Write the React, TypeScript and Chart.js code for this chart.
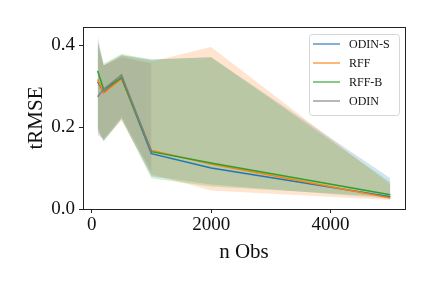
import React, { useEffect, useRef } from "react";
import { Chart, registerables } from "chart.js";

Chart.register(...registerables);

const nObs = [100, 200, 500, 1000, 2000, 5000];
const nObsOdin = [100, 200, 500, 1000];

const odinSMean = [0.31, 0.285, 0.32, 0.135, 0.1, 0.03];
const odinSUpper = [0.41, 0.35, 0.375, 0.365, 0.37, 0.075];
const odinSLower = [0.19, 0.165, 0.22, 0.08, 0.06, 0.025];

const rffMean = [0.316, 0.283, 0.318, 0.143, 0.11, 0.027];
const rffUpper = [0.4, 0.35, 0.375, 0.36, 0.395, 0.06];
const rffLower = [0.19, 0.17, 0.215, 0.085, 0.045, 0.022];

const rffBMean = [0.337, 0.292, 0.32, 0.14, 0.112, 0.035];
const rffBUpper = [0.41, 0.355, 0.378, 0.365, 0.37, 0.065];
const rffBLower = [0.2, 0.165, 0.22, 0.075, 0.055, 0.03];

const odinMean = [0.274, 0.292, 0.327, 0.14];
const odinUpper = [0.424, 0.35, 0.37, 0.355];
const odinLower = [0.18, 0.17, 0.225, 0.09];

const seriesNames = ["ODIN-S", "RFF", "RFF-B", "ODIN"];
const seriesColors = ["#1f77b4", "#ff7f0e", "#2ca02c", "#7f7f7f"];
const xTicks = [0, 2000, 4000];
const yTicks = [0.0, 0.2, 0.4];

function pts(xs: number[], ys: number[]) {
  return xs.map((x, i) => ({ x, y: ys[i] }));
}

function rgba(hex: string, a: number) {
  const r = parseInt(hex.slice(1, 3), 16);
  const g = parseInt(hex.slice(3, 5), 16);
  const b = parseInt(hex.slice(5, 7), 16);
  return `rgba(${r},${g},${b},${a})`;
}

const FONT = "'Liberation Serif', 'DejaVu Serif', serif";

export default function App() {
  const ref = useRef<HTMLCanvasElement | null>(null);
  useEffect(() => {
    document.body.style.margin = "0";
    const canvas = ref.current!;
    const series = [
      { xs: nObs, m: odinSMean, u: odinSUpper, l: odinSLower },
      { xs: nObs, m: rffMean, u: rffUpper, l: rffLower },
      { xs: nObs, m: rffBMean, u: rffBUpper, l: rffBLower },
      { xs: nObsOdin, m: odinMean, u: odinUpper, l: odinLower },
    ];
    const datasets: any[] = [];
    series.forEach((s, i) => {
      const c = seriesColors[i];
      datasets.push({
        label: "_lower" + i,
        data: pts(s.xs, s.l),
        borderColor: "rgba(0,0,0,0)",
        borderWidth: 0,
        pointRadius: 0,
        fill: false,
        order: 30 - i,
      });
      datasets.push({
        label: "_upper" + i,
        data: pts(s.xs, s.u),
        borderColor: "rgba(0,0,0,0)",
        borderWidth: 0,
        pointRadius: 0,
        fill: "-1",
        backgroundColor: rgba(c, 0.2),
        order: 30 - i,
      });
    });
    series.forEach((s, i) => {
      datasets.push({
        label: seriesNames[i],
        data: pts(s.xs, s.m),
        borderColor: seriesColors[i],
        borderWidth: 1.5,
        pointRadius: 0,
        fill: false,
        order: 10 - i,
      });
    });

    const framePlugin = {
      id: "frameLegend",
      afterDraw(chart: any) {
        const { ctx, chartArea: a } = chart;
        ctx.save();
        ctx.strokeStyle = "#222";
        ctx.lineWidth = 1;
        ctx.strokeRect(Math.round(a.left) + 0.5, Math.round(a.top) + 0.5, Math.round(a.right - a.left), Math.round(a.bottom - a.top));
        // legend
        const bx = 309, by = 34, bw = 90, bh = 81;
        ctx.fillStyle = "rgba(255,255,255,0.8)";
        ctx.strokeStyle = "#d6d6d6";
        ctx.lineWidth = 1;
        ctx.beginPath();
        (ctx as any).roundRect(bx + 0.5, by + 0.5, bw, bh, 3);
        ctx.fill();
        ctx.stroke();
        ctx.font = `12px ${FONT}`;
        ctx.textBaseline = "middle";
        ctx.textAlign = "left";
        seriesNames.forEach((n, i) => {
          const y = 44 + i * 19;
          ctx.strokeStyle = rgba(seriesColors[i], 0.75);
          ctx.lineWidth = 1.5;
          ctx.beginPath();
          ctx.moveTo(313, y);
          ctx.lineTo(340, y);
          ctx.stroke();
          ctx.fillStyle = "#111";
          ctx.fillText(n, 349, y + 1);
        });
        ctx.restore();
      },
    };

    const chart = new Chart(canvas, {
      type: "line",
      data: { datasets },
      options: {
        animation: false,
        responsive: false,
        maintainAspectRatio: false,
        layout: { padding: { left: 0, top: 27, right: 27, bottom: 0 } },
        plugins: {
          legend: { display: false },
          tooltip: { enabled: false },
          filler: { propagate: false },
        },
        scales: {
          x: {
            type: "linear",
            min: -145,
            max: 5245,
            afterBuildTicks: (s: any) => {
              s.ticks = xTicks.map((v) => ({ value: v }));
            },
            afterFit: (s: any) => {
              s.height = 79;
            },
            ticks: {
              font: { family: FONT, size: 19 },
              color: "#111",
              padding: 1,
              maxRotation: 0,
              callback: (v: any) => String(v),
            },
            grid: { display: true, drawOnChartArea: false, drawTicks: true, tickLength: 4, color: "#222" },
            border: { display: true, color: "#222" },
            title: {
              display: true,
              text: "n Obs",
              font: { family: FONT, size: 21 },
              color: "#111",
              padding: { top: 0, bottom: 23 },
            },
          },
          y: {
            type: "linear",
            min: 0,
            max: 0.444,
            afterBuildTicks: (s: any) => {
              s.ticks = yTicks.map((v) => ({ value: v }));
            },
            afterFit: (s: any) => {
              s.width = 83;
            },
            ticks: {
              font: { family: FONT, size: 19 },
              color: "#111",
              padding: 4,
              callback: (v: any) => Number(v).toFixed(1),
            },
            grid: { display: true, drawOnChartArea: false, drawTicks: true, tickLength: 4, color: "#222" },
            border: { display: true, color: "#222" },
            title: {
              display: true,
              text: "tRMSE",
              font: { family: FONT, size: 21 },
              color: "#111",
              padding: { top: 24, bottom: 0 },
            },
          },
        },
      },
      plugins: [framePlugin],
    });
    return () => chart.destroy();
  }, []);
  return (
    <div style={{ width: 432, height: 288 }}>
      <canvas ref={ref} width={432} height={288} style={{ display: "block" }} />
    </div>
  );
}
